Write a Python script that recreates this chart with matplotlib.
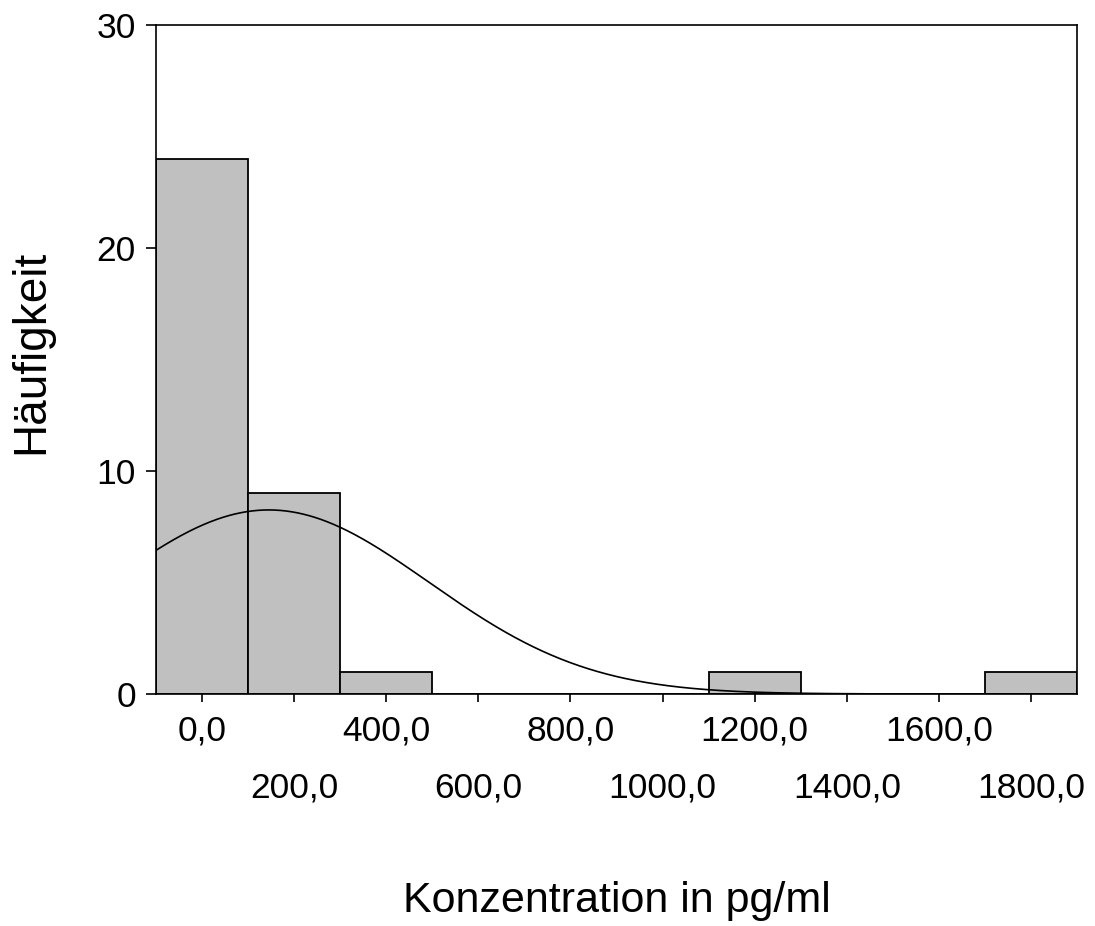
import numpy as np
import matplotlib
matplotlib.use("Agg")
import matplotlib.pyplot as plt
from matplotlib.ticker import FixedLocator, FixedFormatter

# Data
bin_centers = [0, 200, 400, 600, 800, 1000, 1200, 1400, 1600, 1800]
counts = [24, 9, 1, 0, 0, 0, 1, 0, 0, 1]
bin_width = 200
curve_mean = 145.0
curve_sd = 348.0
major_ticks = [0, 400, 800, 1200, 1600]
major_labels = ["0,0", "400,0", "800,0", "1200,0", "1600,0"]
minor_ticks = [200, 600, 1000, 1400, 1800]
minor_labels = ["200,0", "600,0", "1000,0", "1400,0", "1800,0"]
y_ticks = [0, 10, 20, 30]
x_label = "Konzentration in pg/ml"
y_label = "Häufigkeit"

plt.rcParams['font.family'] = ['Liberation Sans', 'DejaVu Sans']

fig = plt.figure(figsize=(10.95, 9.26), dpi=100)
W, H = 1095, 926
ax = fig.add_axes([156 / W, 1 - 694 / H, (1077 - 156) / W, (694 - 25) / H])

ax.bar(bin_centers, counts, width=bin_width, color="#c0c0c0",
       edgecolor="black", linewidth=1.3, zorder=2)

n_total = sum(counts)
xs = np.linspace(-100, 1900, 800)
ys = n_total * bin_width / (curve_sd * np.sqrt(2 * np.pi)) * np.exp(-0.5 * ((xs - curve_mean) / curve_sd) ** 2)
ax.plot(xs, ys, color="black", linewidth=1.2, zorder=3)

ax.set_xlim(-100, 1900)
ax.set_ylim(0, 30)

ax.xaxis.set_major_locator(FixedLocator(major_ticks))
ax.xaxis.set_major_formatter(FixedFormatter(major_labels))
ax.xaxis.set_minor_locator(FixedLocator(minor_ticks))
ax.xaxis.set_minor_formatter(FixedFormatter(minor_labels))
ax.set_yticks(y_ticks)
ax.set_yticklabels([str(v) for v in y_ticks])

ax.tick_params(axis='x', which='both', length=6, width=1.2, labelsize=25.5, direction='out')
ax.tick_params(axis='x', which='major', pad=9)
ax.tick_params(axis='x', which='minor', pad=50)
ax.tick_params(axis='y', length=7.5, width=1.2, labelsize=25.5, pad=7)

for s in ax.spines.values():
    s.set_linewidth(1.2)
    s.set_color("black")

ax.set_xlabel(x_label, fontsize=31)
ax.xaxis.label.set_va('baseline')
ax.xaxis.set_label_coords(0.5, -(912 - 694) / 669)
ax.set_ylabel(y_label, fontsize=33)
ax.yaxis.label.set_va('center')
ax.yaxis.set_label_coords((31 - 156) / 921, (694 - 352) / 669)

fig.savefig("out.png", dpi=100)
